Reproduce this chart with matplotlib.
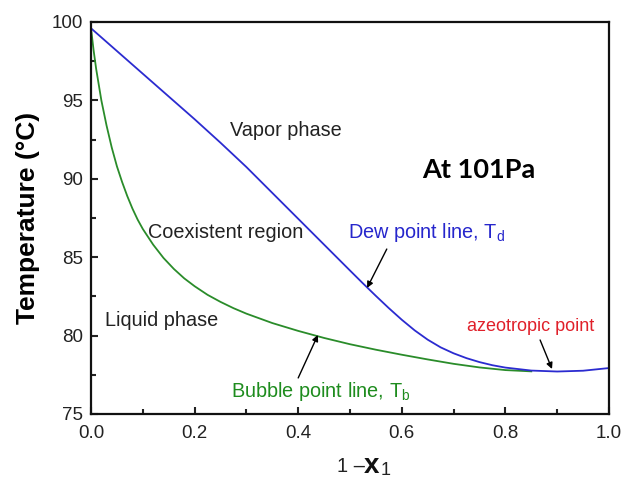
import matplotlib
matplotlib.use("Agg")
import matplotlib.pyplot as plt
from matplotlib.ticker import MultipleLocator

plt.rcParams['font.family'] = ['Liberation Sans', 'DejaVu Sans']
plt.rcParams['mathtext.fontset'] = 'custom'
plt.rcParams['mathtext.rm'] = 'Liberation Sans'
plt.rcParams['mathtext.bf'] = 'Liberation Sans:bold'

# Dew point line (vapor composition)
dew_x = [0.0, 0.05, 0.1, 0.15, 0.2, 0.25, 0.3, 0.35, 0.4, 0.45, 0.5, 0.525, 0.55, 0.575, 0.6,
         0.625, 0.65, 0.675, 0.7, 0.725, 0.75, 0.775, 0.8, 0.85, 0.9, 0.95, 1.0]
dew_T = [99.6, 98.15, 96.7, 95.25, 93.8, 92.3, 90.75, 89.1, 87.45, 85.8, 84.15, 83.33, 82.53, 81.75, 81.01,
         80.33, 79.74, 79.25, 78.87, 78.56, 78.31, 78.11, 77.96, 77.77, 77.71, 77.76, 77.93]

# Bubble point line (liquid composition)
bub_x = [0.0, 0.005, 0.01, 0.02, 0.03, 0.04, 0.05, 0.06, 0.07, 0.08, 0.09, 0.1, 0.12, 0.14,
         0.16, 0.18, 0.2, 0.225, 0.25, 0.275, 0.3, 0.35, 0.4, 0.45, 0.5, 0.55, 0.6, 0.65,
         0.7, 0.75, 0.8, 0.85]
bub_T = [99.6, 98.2, 97.0, 95.0, 93.4, 92.0, 90.8, 89.8, 88.9, 88.1, 87.4, 86.8, 85.8, 84.95,
         84.25, 83.65, 83.15, 82.6, 82.15, 81.75, 81.4, 80.8, 80.3, 79.85, 79.45, 79.1, 78.78, 78.48,
         78.2, 77.97, 77.8, 77.72]

x_ticks = [0.0, 0.2, 0.4, 0.6, 0.8, 1.0]
y_ticks = [75, 80, 85, 90, 95, 100]

fig = plt.figure(figsize=(6.22, 4.8), dpi=100)
ax = fig.add_axes([91/622, 1-414/480, (609-91)/622, (414-22)/480])

ax.plot(bub_x, bub_T, color='#2a8c2a', lw=1.3)
ax.plot(dew_x, dew_T, color='#2b2bd0', lw=1.3)

ax.set_xlim(0, 1)
ax.set_ylim(75, 100)
ax.set_xticks(x_ticks)
ax.set_yticks(y_ticks)
ax.set_xticklabels([f"{v:.1f}" for v in x_ticks])
ax.set_yticklabels([str(v) for v in y_ticks])
ax.xaxis.set_minor_locator(MultipleLocator(0.1))
ax.yaxis.set_minor_locator(MultipleLocator(2.5))
ax.tick_params(which='both', direction='in', top=False, right=False, width=1.5, labelsize=13.5, colors='#222222')
ax.tick_params(which='major', length=5)
ax.tick_params(which='minor', length=3.5)
ax.tick_params(axis='x', pad=8)
ax.tick_params(axis='y', pad=6)
for s in ax.spines.values():
    s.set_linewidth(1.6)
    s.set_color('#111111')

ax.set_ylabel('Temperature (°C)', fontsize=19, fontweight='bold', labelpad=8)

# x label: "1 – x1" with a large bold x
fig.text(337/622, 1-472/480, '1 \u2013', fontsize=14.5, color='#222222', va='baseline', ha='left')
fig.text(364/622, 1-473/480, 'x', fontsize=20, fontweight='bold', color='#111111', va='baseline', ha='left')
fig.text(381/622, 1-475/480, '1', fontsize=13, color='#222222', va='baseline', ha='left')

ax.text(0.268, 92.73, 'Vapor phase', fontsize=14.3, color='#222222', va='baseline')
ax.text(0.110, 86.22, 'Coexistent region', fontsize=14.3, color='#222222', va='baseline')
ax.text(0.027, 80.61, 'Liquid phase', fontsize=14.3, color='#222222', va='baseline')
ax.text(0.496, 86.22, r'Dew point line, T$_\mathrm{d}$', fontsize=14.3, color='#2626cc', va='baseline')
ax.text(0.270, 76.08, r'Bubble point line, T$_\mathrm{b}$', fontsize=14.3, color='#1e8c1e', va='baseline')
ax.text(0.726, 80.29, 'azeotropic point', fontsize=13, color='#e0202a', va='baseline')
ax.text(0.639, 90.05, 'At 101Pa', fontsize=19.5, fontweight='bold', family='Lato', color='black', va='baseline')

arrow = dict(arrowstyle='-|>', lw=1.0, color='black', mutation_scale=9, shrinkA=0, shrinkB=0)
ax.annotate('', xy=(0.533, 83.04), xytext=(0.571, 85.52), arrowprops=arrow)
ax.annotate('', xy=(0.438, 80.04), xytext=(0.400, 77.30), arrowprops=arrow)
ax.annotate('', xy=(0.890, 77.87), xytext=(0.867, 79.72), arrowprops=arrow)

fig.savefig('out.png', dpi=100)
